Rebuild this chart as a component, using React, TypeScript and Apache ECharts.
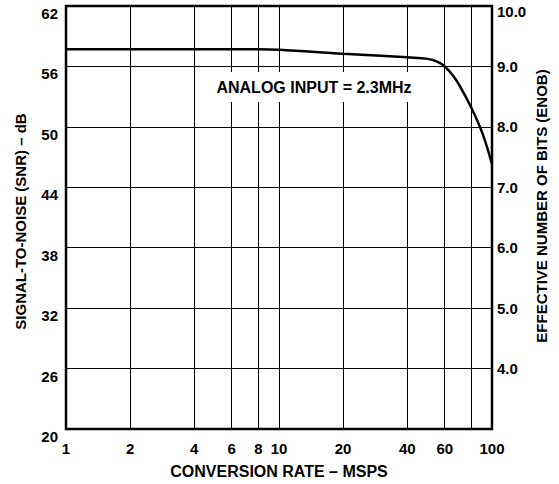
import React, { useEffect, useRef } from 'react';
import * as echarts from 'echarts';

const FONT = "'Liberation Sans', Arial, Helvetica, sans-serif";

// Conversion rate (MSPS) and SNR (dB)
const rates = [1, 2, 4, 6, 8, 10, 20, 30, 40, 50, 55, 60, 65, 70, 80, 90, 100];
const snr = [57.7, 57.7, 57.7, 57.7, 57.7, 57.65, 57.25, 57.05, 56.9, 56.75, 56.5, 56.0, 55.2, 54.2, 51.9, 49.4, 46.3];

// x-axis grid lines and labels
const xGridValues = [1, 2, 4, 6, 8, 10, 20, 40, 60, 80, 100];
const xLabelValues = [1, 2, 4, 6, 8, 10, 20, 40, 60, 100];

// left SNR ticks and right ENOB labels
const snrTicks = [26, 32, 38, 44, 50, 56, 62];
const enobLabels = ['4.0', '5.0', '6.0', '7.0', '8.0', '9.0', '10.0'];

const annotation = 'ANALOG INPUT = 2.3MHz';
const rightTitle = 'EFFECTIVE NUMBER OF BITS (ENOB)';

export default function App() {
  const ref = useRef<HTMLDivElement>(null);
  useEffect(() => {
    const chart = echarts.init(ref.current!, null, { renderer: 'svg' });
    const txt = { fontFamily: FONT, fontWeight: 'bold' as const, fontSize: 15, color: '#000' };
    chart.setOption({
      animation: false,
      backgroundColor: '#fff',
      grid: {
        left: 66, top: 6, width: 426, height: 426,
        show: true, borderColor: '#000', borderWidth: 2.5, backgroundColor: 'transparent',
      },
      xAxis: {
        type: 'log', logBase: 10, min: 1, max: 100,
        axisLine: { show: false }, axisTick: { show: false }, axisLabel: { show: false },
        splitLine: { show: false },
        name: 'CONVERSION RATE – MSPS', nameLocation: 'middle', nameGap: 34,
        nameTextStyle: { ...txt, fontSize: 16 },
      },
      yAxis: [
        {
          type: 'value', min: 20, max: 62, interval: 6, position: 'left',
          axisLine: { show: false }, axisTick: { show: false },
          splitLine: { show: true, lineStyle: { color: '#000', width: 1 } },
          axisLabel: { ...txt, margin: 8, verticalAlign: 'top' },
          name: 'SIGNAL-TO-NOISE (SNR) – dB', nameLocation: 'middle', nameRotate: 90, nameGap: 38,
          nameTextStyle: { ...txt, padding: [0, 8, 0, 0] },
        },
        {
          type: 'value', min: 20, max: 62, interval: 6, position: 'right',
          axisLine: { show: false }, axisTick: { show: false }, splitLine: { show: false },
          axisLabel: {
            ...txt, margin: 5,
            formatter: (v: number) => {
              const i = snrTicks.indexOf(v);
              if (i < 0) return '';
              return v === 62 ? '{t|' + enobLabels[i] + '}' : enobLabels[i];
            },
            rich: { t: { ...txt, padding: [10, 0, 0, 0] } },
          },
        },
      ],
      series: [
        {
          type: 'line',
          yAxisIndex: 0,
          data: rates.map((r, i) => [r, snr[i]]),
          smooth: 0.4,
          symbol: 'none',
          lineStyle: { color: '#000', width: 2.5 },
          z: 5,
          markLine: {
            silent: true,
            symbol: ['none', 'none'],
            animation: false,
            lineStyle: { color: '#000', width: 1, type: 'solid' },
            emphasis: { disabled: true },
            data: xGridValues.map((v) => ({
              xAxis: v,
              label: {
                show: xLabelValues.indexOf(v) >= 0,
                position: 'start',
                distance: 12,
                formatter: String(v),
                ...txt,
              },
            })),
          },
        },
      ],
      graphic: [
        {
          type: 'text',
          x: 314, y: 87, z: 100,
          style: {
            text: annotation,
            font: 'bold 16px ' + FONT,
            fill: '#000',
            align: 'center',
            verticalAlign: 'middle',
            backgroundColor: '#fff',
            padding: [7, 4],
          },
        },
        {
          type: 'text',
          x: 541, y: 206, rotation: Math.PI / 2, z: 100,
          style: {
            text: rightTitle,
            font: 'bold 15px ' + FONT,
            fill: '#000',
            align: 'center',
            verticalAlign: 'middle',
          },
        },
      ],
    });
    return () => chart.dispose();
  }, []);
  return (
    <div
      ref={ref}
      style={{ position: 'absolute', left: 0, top: 0, width: 559, height: 484, background: '#fff' }}
    />
  );
}
